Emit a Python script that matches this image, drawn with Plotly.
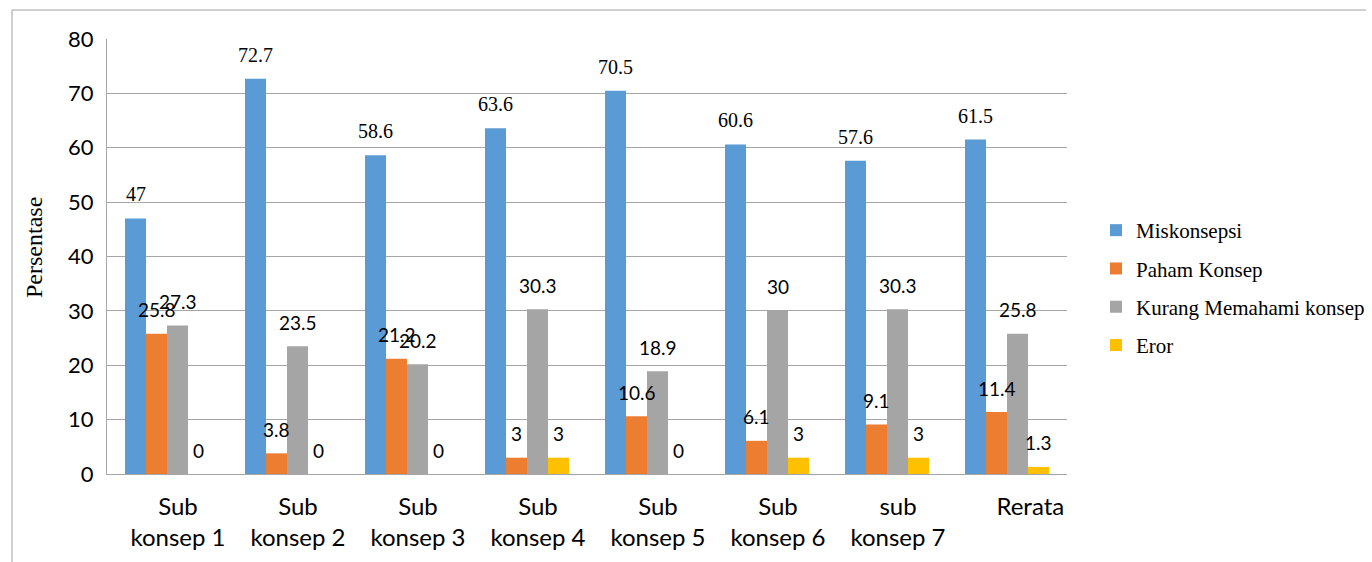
import plotly.graph_objects as go

categories = ["Sub<br>konsep 1", "Sub<br>konsep 2", "Sub<br>konsep 3", "Sub<br>konsep 4",
              "Sub<br>konsep 5", "Sub<br>konsep 6", "sub<br>konsep 7", "&nbsp;&nbsp;&nbsp;&nbsp;Rerata"]
series_names = ["Miskonsepsi", "Paham Konsep", "Kurang Memahami konsep", "Eror"]
miskonsepsi = [47, 72.7, 58.6, 63.6, 70.5, 60.6, 57.6, 61.5]
paham_konsep = [25.8, 3.8, 21.2, 3, 10.6, 6.1, 9.1, 11.4]
kurang_memahami = [27.3, 23.5, 20.2, 30.3, 18.9, 30, 30.3, 25.8]
eror = [0, 0, 0, 3, 0, 3, 3, 1.3]
y_ticks = [0, 10, 20, 30, 40, 50, 60, 70, 80]

SERIF = "Liberation Serif, Times New Roman, serif"
SANS = "Lato, Open Sans, sans-serif"
colors = ["#5B9BD5", "#ED7D31", "#A5A5A5", "#FFC000"]
all_values = [miskonsepsi, paham_konsep, kurang_memahami, eror]
label_fonts = [dict(family=SERIF, size=20, color="#000"),
               dict(family=SANS, size=19, color="#000"),
               dict(family=SANS, size=19, color="#000"),
               dict(family=SANS, size=19, color="#000")]

x_idx = list(range(len(categories)))
bargap = 0.3
n = len(all_values)
bw = (1 - bargap) / n

fig = go.Figure()
annotations = []
for j, (name, vals, col) in enumerate(zip(series_names, all_values, colors)):
    fig.add_trace(go.Bar(x=x_idx, y=vals, name=name, marker_color=col,
                         marker_line_width=0, legendgroup=name))
    off = -(1 - bargap) / 2 + bw * (j + 0.5)
    for i, v in enumerate(vals):
        annotations.append(dict(x=i + off, y=v, xref="x", yref="y", text=f"{v:g}",
                                showarrow=False, yshift=24, yanchor="middle",
                                font=label_fonts[j]))

L, R, T, B = 107, 1067, 39, 474
W, H = 1372, 562
pw, ph = R - L, B - T
def px(xp):
    return (xp - L) / pw
def py(yp):
    return (B - yp) / ph

annotations.append(dict(x=px(34), y=py(248), xref="paper", yref="paper", text="Persentase",
                        textangle=-90, showarrow=False, xanchor="center", yanchor="middle",
                        font=dict(family=SERIF, size=24, color="#000")))

shapes = [
    dict(type="line", xref="paper", yref="paper", x0=px(12), x1=px(1366), y0=py(10), y1=py(10),
         line=dict(color="#A0A0A0", width=1)),
    dict(type="line", xref="paper", yref="paper", x0=px(12), x1=px(12), y0=py(10), y1=py(562),
         line=dict(color="#A0A0A0", width=1)),
]

fig.update_layout(
    width=W, height=H,
    margin=dict(l=L, r=W - R, t=T, b=H - B, autoexpand=False),
    barmode="group", bargap=bargap, bargroupgap=0,
    plot_bgcolor="white", paper_bgcolor="white",
    annotations=annotations, shapes=shapes,
    legend=dict(x=px(1096), y=py(210), xanchor="left", yanchor="top",
                font=dict(family=SERIF, size=21, color="#000"),
                tracegroupgap=8, itemwidth=30),
    xaxis=dict(tickmode="array", tickvals=x_idx, ticktext=categories, range=[-0.5, 7.5],
               showgrid=False, showline=True, linecolor="#A6A6A6", linewidth=1, ticks="",
               ticklabelstandoff=11, ticklabelshift=11,
               tickfont=dict(family=SANS, size=24, color="#000")),
    yaxis=dict(range=[0, 80], tickvals=y_ticks, showgrid=True, gridcolor="#A6A6A6", gridwidth=1,
               showline=True, linecolor="#A6A6A6", linewidth=1, ticks="", zeroline=False,
               ticklabelstandoff=8,
               tickfont=dict(family=SANS, size=22, color="#000")),
)

fig.write_html("out.html")
